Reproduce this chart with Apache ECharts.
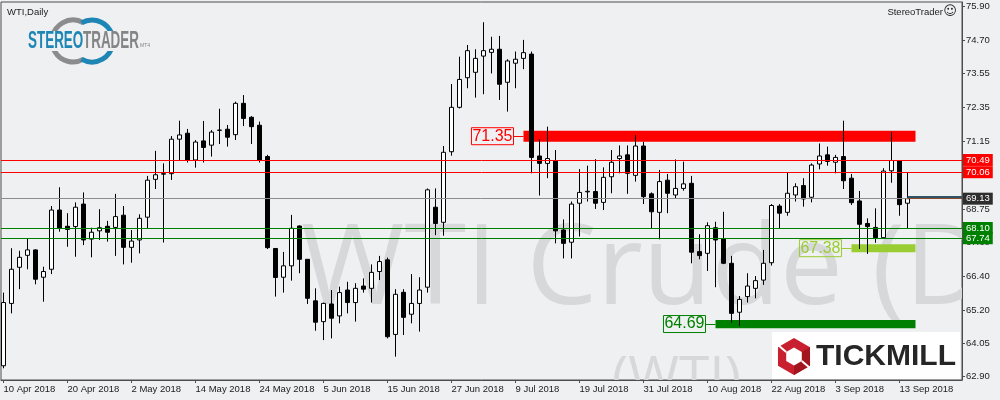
<!DOCTYPE html>
<html><head><meta charset="utf-8">
<script src="https://cdn.jsdelivr.net/npm/echarts@6/dist/echarts.min.js"></script>
<style>html,body{margin:0;padding:0;background:#eff0f2}#c{width:1000px;height:400px}</style>
</head><body><div id="c"></div>
<script>
// ---- DATA (WTI, Daily, 10 Apr 2018 .. 14 Sep 2018) ----
const opens  = [63.26,65.45,66.72,67.14,67.33,66.37,66.65,68.73,68.16,68.15,68.94,67.71,68.00,68.16,68.12,68.55,67.42,67.68,68.48,69.81,69.99,70.01,71.22,71.43,70.49,71.16,71.01,71.53,71.57,71.38,72.48,71.99,71.71,70.61,67.38,66.37,66.77,68.17,67.00,65.54,64.81,65.43,65.01,65.92,65.48,66.06,65.98,66.57,66.98,64.36,65.84,65.07,65.45,66.02,68.83,68.30,70.78,72.34,73.38,73.57,74.14,74.27,74.38,73.22,73.89,74.06,74.21,70.63,70.37,70.45,68.03,67.60,68.97,69.37,69.38,69.00,69.90,70.54,70.67,69.95,70.98,69.30,68.65,69.78,69.26,69.49,69.67,67.27,67.21,68.11,67.71,66.86,65.14,65.69,65.98,66.27,66.88,68.87,68.65,69.26,69.59,69.18,70.35,70.67,70.41,70.61,69.85,69.05,68.26,68.12,67.76,70.11,70.47,68.97];
const closes = [65.48,66.65,67.07,67.33,66.30,66.57,68.73,68.10,68.05,68.83,67.68,67.95,68.11,67.95,68.50,67.42,67.64,68.44,69.78,69.97,70.01,71.22,71.37,70.49,71.12,70.93,71.47,71.54,71.29,72.48,71.95,71.66,70.49,67.41,66.36,66.77,68.09,67.00,65.63,64.79,65.45,64.93,65.83,65.48,65.98,65.95,66.54,66.92,64.28,65.77,64.96,65.45,65.92,69.44,68.26,70.76,72.34,73.32,74.33,74.06,74.33,74.38,73.15,73.97,74.03,74.26,70.58,70.37,70.54,68.00,67.56,68.94,69.35,69.39,68.97,69.88,70.41,70.63,70.02,70.98,69.20,68.67,69.73,69.32,69.49,69.65,67.25,67.13,68.18,67.68,66.86,65.10,65.59,66.06,66.25,66.86,68.89,68.62,69.32,69.55,69.12,70.31,70.63,70.44,70.58,69.76,68.99,68.23,68.15,67.76,70.10,70.47,68.92,69.13];
const lows   = [63.17,65.10,65.95,66.65,66.12,65.51,66.48,67.97,67.44,67.09,67.50,67.07,67.68,67.62,67.12,66.82,66.88,67.21,68.09,69.47,67.59,69.79,70.49,70.40,70.22,70.40,70.61,71.05,70.96,71.19,71.68,71.05,70.40,67.36,65.69,65.83,66.25,66.51,65.43,64.49,64.16,64.22,64.75,65.10,64.81,65.83,65.48,66.27,64.22,63.58,64.34,64.75,64.46,65.83,67.85,67.83,70.64,72.30,73.01,72.68,72.80,73.53,72.60,72.19,73.01,73.68,70.02,69.24,69.85,67.56,67.03,67.03,67.80,69.03,68.77,68.73,69.32,70.02,69.30,69.73,68.94,68.09,67.70,68.62,69.12,69.41,66.86,67.00,66.59,66.02,66.83,64.77,64.66,65.48,65.63,66.10,66.78,68.09,68.53,69.03,68.85,69.00,70.16,70.29,70.02,69.47,68.91,67.36,67.19,67.58,67.74,69.69,68.53,68.09];
const highs  = [65.83,67.39,67.30,67.73,67.35,66.74,68.87,69.53,68.62,69.00,69.35,68.11,68.76,68.35,69.30,68.87,68.03,68.58,69.93,70.81,70.37,71.33,71.87,71.58,71.19,71.86,71.54,72.29,71.72,72.54,72.77,72.03,71.84,70.67,67.38,67.26,68.56,68.19,67.00,65.98,65.48,65.92,66.04,66.21,66.16,66.33,66.82,67.12,67.06,65.95,65.95,66.48,66.37,69.49,69.49,70.98,73.16,74.12,74.53,74.38,75.33,74.82,74.85,74.03,74.30,74.71,74.30,71.22,71.66,70.84,68.40,69.03,70.17,70.29,70.52,70.23,70.84,71.00,71.00,71.37,71.13,69.35,70.14,70.00,70.51,70.43,69.93,67.88,68.30,68.32,68.67,67.12,65.71,66.51,66.41,67.33,68.94,68.94,70.05,69.67,69.85,70.37,71.07,70.96,70.67,71.87,70.00,69.40,68.44,68.79,70.20,71.48,70.47,70.05];

const tickIndex  = [0,8,16,24,32,40,48,56,64,72,80,88,96,104,112];
const tickLabels = ['10 Apr 2018','20 Apr 2018','2 May 2018','14 May 2018','24 May 2018','5 Jun 2018','15 Jun 2018','27 Jun 2018','9 Jul 2018','19 Jul 2018','31 Jul 2018','10 Aug 2018','22 Aug 2018','3 Sep 2018','13 Sep 2018'];
const yTicks = [75.90,74.70,73.55,72.35,71.15,69.95,68.75,67.60,66.40,65.20,64.05,62.90];

const resistanceLines = [70.49, 70.06];
const supportLines    = [68.10, 67.74];
const lastPrice       = 69.13;
const askLevel        = 69.21;
const markLevel       = 69.16;

const zoneLabels = ['71.35','67.38','64.69'];
const zoneHigh   = [71.52, 67.53, 64.87];
const zoneLow    = [71.13, 67.25, 64.58];
const zoneStart  = [65, 106, 89];
const zoneEnd    = [114, 114, 114];

// ---- STYLE ----
const BG = '#eff0f2';
const FONT = '"Liberation Sans", Arial, sans-serif';
const AXIS = '#4d4d4d';
const zoneColors = ['#ff0000', '#9acd32', '#008000'];
const xMin = -0.3125, xMax = 119.8125, yMin = 62.759, yMax = 76.0405;

const candles = opens.map((o, i) => [i, o, closes[i], lows[i], highs[i]]);

function endLabel(bg) {
  return {show: true, position: 'end', distance: 1, formatter: p => p.value.toFixed(2),
    backgroundColor: bg, color: '#ffffff', padding: [1, 3, 1, 3], fontSize: 9.5, lineHeight: 10, fontFamily: FONT};
}
const hLineData = [];
resistanceLines.forEach(v => hLineData.push({yAxis: v, lineStyle: {color: '#ff0000'}, label: endLabel('#ff0000')}));
hLineData.push({yAxis: lastPrice, lineStyle: {color: '#8c8c8c'}, label: endLabel('#2e2e2e')});
supportLines.forEach(v => hLineData.push({yAxis: v, lineStyle: {color: '#008000'}, label: endLabel('#008000')}));
hLineData.push([{xAxis: 113, yAxis: askLevel, lineStyle: {color: '#2f5468', width: 2}, label: {show: false}}, {xAxis: xMax, yAxis: askLevel}]);
hLineData.push([{xAxis: 113, yAxis: markLevel, lineStyle: {color: '#8b4a2b', width: 1}, label: {show: false}}, {xAxis: xMax, yAxis: markLevel}]);

const zoneAreas = zoneLabels.map((t, k) => [
  {xAxis: zoneStart[k], yAxis: zoneHigh[k], itemStyle: {color: zoneColors[k], opacity: 1},
   label: {show: true, position: 'left', distance: 10, formatter: t, color: zoneColors[k],
     borderColor: zoneColors[k], borderWidth: 1, padding: [1, 1, 0, 1], fontSize: 16, lineHeight: 16, fontFamily: FONT}},
  {xAxis: zoneEnd[k], yAxis: zoneLow[k]}
]);
const zoneConnectors = zoneLabels.map((t, k) => {
  const m = (zoneHigh[k] + zoneLow[k]) / 2;
  return [{xAxis: zoneStart[k] - 1.25, yAxis: m, lineStyle: {color: zoneColors[k], width: 1}, label: {show: false}},
          {xAxis: zoneStart[k], yAxis: m}];
});

// decoration helpers
function hexPts(cx, cy, r) {
  const p = [];
  for (let k = 0; k < 6; k++) { const a = (-90 + 60 * k) * Math.PI / 180; p.push([cx + r * Math.cos(a), cy + r * Math.sin(a)]); }
  return p;
}

const chart = echarts.init(document.getElementById('c'), null, {renderer: 'canvas'});
chart.setOption({
  backgroundColor: BG,
  animation: false,
  grid: {left: 1, right: 38, top: 2, bottom: 20, show: true, borderColor: AXIS, borderWidth: 1, backgroundColor: 'transparent'},
  xAxis: {
    type: 'value', min: xMin, max: xMax, z: 2,
    splitLine: {show: false},
    axisLine: {show: true, onZero: false, lineStyle: {color: AXIS}},
    axisTick: {show: true, customValues: tickIndex, length: 3, lineStyle: {color: AXIS}},
    axisLabel: {customValues: tickIndex, formatter: v => tickLabels[tickIndex.indexOf(Math.round(v))] || '',
      align: 'left', margin: 4, color: '#222', fontSize: 9.5, fontFamily: FONT}
  },
  yAxis: {
    type: 'value', position: 'right', min: yMin, max: yMax, z: 2,
    splitLine: {show: false},
    axisLine: {show: true, onZero: false, lineStyle: {color: AXIS}},
    axisTick: {show: true, customValues: yTicks, length: 3, lineStyle: {color: AXIS}},
    axisLabel: {customValues: yTicks, formatter: v => v.toFixed(2), margin: 4, color: '#222', fontSize: 9.5, fontFamily: FONT}
  },
  series: [
    {
      type: 'line', data: [], z: 3, silent: true,
      markArea: {silent: true, animation: false, emphasis: {disabled: true}, data: zoneAreas},
      markLine: {silent: true, animation: false, symbol: ['none', 'none'], emphasis: {disabled: true},
        lineStyle: {type: 'solid', width: 1}, data: zoneConnectors}
    },
    {
      type: 'candlestick', data: candles, z: 4, barWidth: 4, silent: true, clip: true,
      emphasis: {disabled: true},
      itemStyle: {color: '#ffffff', color0: '#000000', borderColor: '#000000', borderColor0: '#000000', borderWidth: 1}
    },
    {
      type: 'line', data: [], z: 5, silent: true,
      markLine: {silent: true, animation: false, symbol: ['none', 'none'], emphasis: {disabled: true},
        lineStyle: {type: 'solid', width: 1}, data: hLineData}
    }
  ],
  graphic: {elements: [
    // watermark
    {type: 'text', z: 0, silent: true, style: {text: 'WTI Crude (Daily)', x: 301, y: 272, font: '112px "Open Sans", "Noto Sans", sans-serif', fill: '#d6d8d9', verticalAlign: 'middle', textVerticalAlign: 'middle'}},
    {type: 'text', z: 0, silent: true, style: {text: '(WTI)', x: 612, y: 379, font: '55px "Open Sans", "Noto Sans", sans-serif', fill: '#d6d8d9', verticalAlign: 'middle', textVerticalAlign: 'middle'}},
    // covers outside plot
    {type: 'rect', z: 1, silent: true, shape: {x: 963, y: 0, width: 37, height: 400}, style: {fill: BG}},
    {type: 'rect', z: 1, silent: true, shape: {x: 0, y: 381, width: 1000, height: 19}, style: {fill: BG}},
    // title
    {type: 'text', z: 6, silent: true, style: {text: 'WTI,Daily', x: 7, y: 12, font: '9.5px ' + FONT, fill: '#222', verticalAlign: 'middle', textVerticalAlign: 'middle'}},
    {type: 'text', z: 6, silent: true, style: {text: 'StereoTrader', x: 943, y: 12, font: '9.5px ' + FONT, fill: '#222', align: 'right', textAlign: 'right', verticalAlign: 'middle', textVerticalAlign: 'middle'}},
    {type: 'text', z: 6, silent: true, style: {text: '\u263A', x: 950, y: 12, font: '13px "DejaVu Sans"', fill: '#222', align: 'center', textAlign: 'center', verticalAlign: 'middle', textVerticalAlign: 'middle'}},
    // StereoTrader logo
    {type: 'arc', z: 6, silent: true, shape: {cx: 73, cy: 41, r: 21, startAngle: Math.PI / 3, endAngle: 5 * Math.PI / 3, clockwise: true}, style: {stroke: '#8c8c8c', lineWidth: 5, fill: null}},
    {type: 'arc', z: 6, silent: true, shape: {cx: 92, cy: 41, r: 21, startAngle: 4 * Math.PI / 3, endAngle: 8 * Math.PI / 3, clockwise: true}, style: {stroke: '#1d86b4', lineWidth: 5, fill: null}},
    {type: 'rect', z: 6, silent: true, shape: {x: 26, y: 31, width: 113, height: 20}, style: {fill: BG}},
    {type: 'text', z: 7, silent: true, x: 28, y: 41, scaleX: 0.56, style: {text: 'STEREO', x: 0, y: 0, font: 'bold 24px ' + FONT, fill: '#1d86b4', verticalAlign: 'middle', textVerticalAlign: 'middle'}},
    {type: 'text', z: 7, silent: true, x: 83, y: 41, scaleX: 0.56, style: {text: 'TRADER', x: 0, y: 0, font: 'bold 24px ' + FONT, fill: '#858585', verticalAlign: 'middle', textVerticalAlign: 'middle'}},
    {type: 'text', z: 7, silent: true, style: {text: 'MT4', x: 140, y: 46, font: '5px ' + FONT, fill: '#858585', verticalAlign: 'middle', textVerticalAlign: 'middle'}},
    // Tickmill logo
    {type: 'rect', z: 6, silent: true, shape: {x: 772, y: 332, width: 188, height: 47}, style: {fill: '#ffffff'}},
    {type: 'polygon', z: 7, silent: true, shape: {points: hexPts(794, 356.5, 18.5)}, style: {fill: '#c8202f'}},
    {type: 'polygon', z: 7, silent: true, shape: {points: [[794, 356.5]].concat(hexPts(794, 356.5, 18.5).slice(1, 4))}, style: {fill: '#a3161f'}},
    {type: 'polygon', z: 8, silent: true, shape: {points: hexPts(794, 356.5, 9)}, style: {fill: '#ffffff'}},
    {type: 'line', z: 8, silent: true, shape: {x1: 786.2, y1: 352, x2: 778, y2: 345}, style: {stroke: '#ffffff', lineWidth: 2}},
    {type: 'line', z: 8, silent: true, shape: {x1: 801.8, y1: 361, x2: 810, y2: 368}, style: {stroke: '#ffffff', lineWidth: 2}},
    {type: 'text', z: 7, silent: true, style: {text: 'TICKMILL', x: 816, y: 357, font: 'bold 30px ' + FONT, fill: '#262626', verticalAlign: 'middle', textVerticalAlign: 'middle'}}
  ]}
});
</script>
</body></html>
